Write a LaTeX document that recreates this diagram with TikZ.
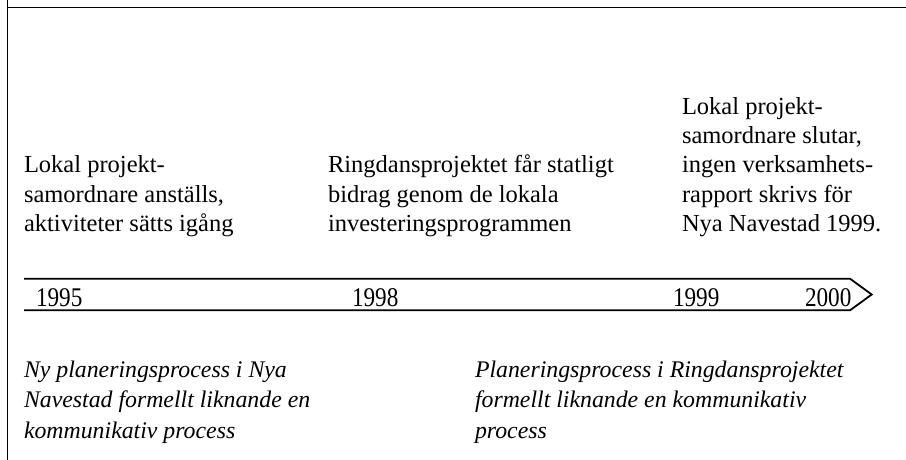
\documentclass[tikz,border=0pt]{standalone}
\usepackage{fontspec}
\setmainfont{Liberation Serif}
\begin{document}
\begin{tikzpicture}[x=1bp,y=-1bp,
  every node/.style={inner sep=0pt,outer sep=0pt},
  evtext/.style={anchor=base west,align=left,font=\fontsize{24.5bp}{29.3bp}\selectfont},
  proctext/.style={anchor=base west,align=left,font=\fontsize{23.8bp}{30.5bp}\selectfont\itshape},
  yeartext/.style={anchor=base west,font=\fontsize{27bp}{27bp}\selectfont,xscale=0.86},
  frameline/.style={line width=1.2bp,black},
  axisline/.style={line width=1.8bp,black,line join=miter}]
\useasboundingbox (0,0) rectangle (906,460);
% frame
\coordinate (fl1) at (7.5,0);
\coordinate (fl2) at (7.5,460);
\coordinate (ft1) at (7.5,7.5);
\coordinate (ft2) at (906,7.5);
\draw[frameline] (fl1) -- (fl2);
\draw[frameline] (ft1) -- (ft2);
% timeline arrow
\coordinate (a1) at (24,278.7);
\coordinate (a2) at (850,278.7);
\coordinate (tip) at (871.7,294.5);
\coordinate (a3) at (850,310.3);
\coordinate (a4) at (24,310.3);
\draw[axisline] (a1) -- (a2) -- (tip) -- (a3) -- (a4);
% years
\node[yeartext] (y1995) at (36,307) {1995};
\node[yeartext] (y1998) at (352,307) {1998};
\node[yeartext] (y1999) at (673,307) {1999};
\node[yeartext] (y2000) at (805,307) {2000};
% events (anchor = baseline of last line)
\node[evtext] (e1) at (24,231.5) {Lokal projekt-\\samordnare anställs,\\aktiviteter sätts igång};
\node[evtext] (e2) at (328,231.5) {Ringdansprojektet får statligt\\bidrag genom de lokala\\investeringsprogrammen};
\node[evtext] (e3) at (682,231.5) {Lokal projekt-\\samordnare slutar,\\ingen verksamhets-\\rapport skrivs för\\Nya Navestad 1999.};
% processes
\node[proctext] (p1) at (24,438) {Ny planeringsprocess i Nya\\Navestad formellt liknande en\\kommunikativ process};
\node[proctext] (p2) at (475,438) {Planeringsprocess i Ringdansprojektet\\formellt liknande en kommunikativ\\process};
\end{tikzpicture}
\end{document}
